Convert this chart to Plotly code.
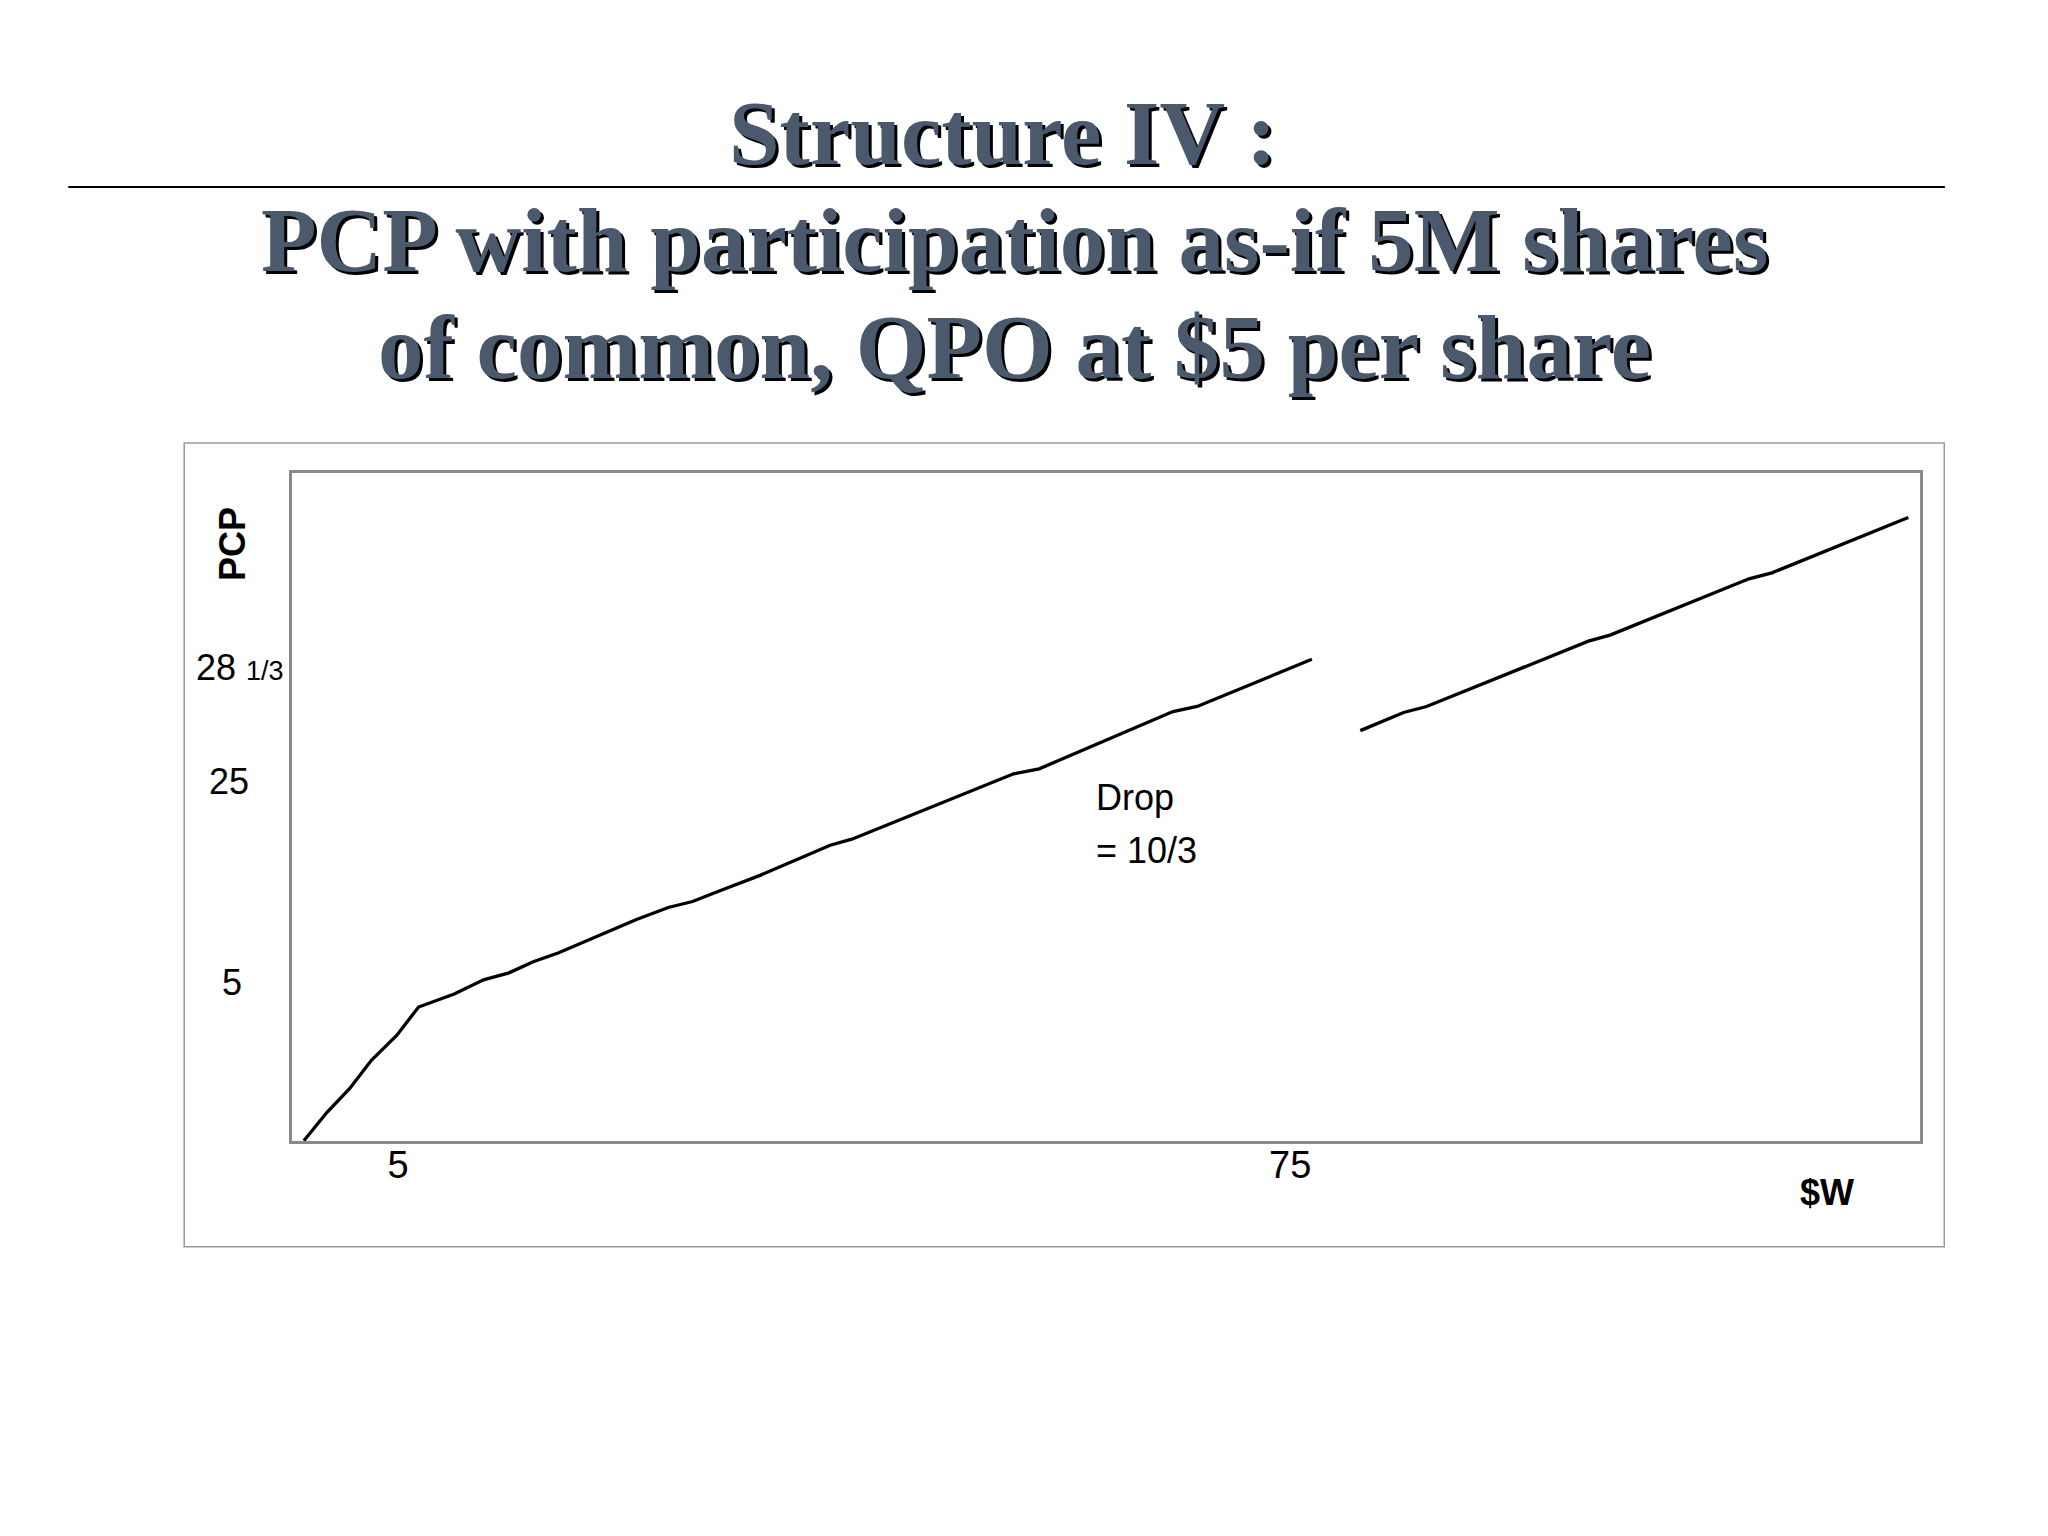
import plotly.graph_objects as go

# PCP payoff vs firm value $W (schematic)
w_before = [-2.4, -0.6, 1.2, 2.9, 4.9, 6.6, 9.4, 11.7, 13.7, 15.6, 17.6, 20.9,
            23.7, 26.2, 28.1, 30.5, 33.4, 38.9, 40.6, 53.3, 55.3, 65.8, 67.7, 76.7]
pcp_before = [-10.7, -7.9, -5.5, -2.7, -0.2, 2.6, 3.9, 5.3, 6.0, 7.1, 8.0, 9.8,
              11.3, 12.5, 13.1, 14.3, 15.7, 18.7, 19.3, 25.8, 26.3, 32.0, 32.5, 37.2]

w_after = [80.5, 83.9, 85.7, 93.1, 98.4, 100.1, 111.0, 112.8, 123.5]
pcp_after = [30.1, 31.9, 32.5, 36.3, 39.0, 39.6, 45.2, 45.8, 51.3]

x_ticks = [5, 75]
x_tick_text = ["5", "75"]

y_label_vals = [5, 25, 36.4]
y_label_text = ["5", "25", "28 <span style='font-size:27px'>1/3</span>"]

title_lines = ["Structure IV :",
               "PCP with participation as-if 5M shares",
               "of common, QPO at $5 per share"]

sans = "Liberation Sans, Arial, sans-serif"
serif = "Liberation Serif, Times New Roman, serif"

fig = go.Figure()

fig.add_trace(go.Scatter(x=w_before, y=pcp_before, mode="lines",
                         line=dict(color="black", width=3.3), showlegend=False))
fig.add_trace(go.Scatter(x=w_after, y=pcp_after, mode="lines",
                         line=dict(color="black", width=3.3), showlegend=False))

fig.update_xaxes(range=[-3.33, 124.42], tickvals=x_ticks, ticktext=x_tick_text,
                 tickfont=dict(family=sans, size=38, color="black"),
                 ticklabelstandoff=-12,
                 showgrid=False, zeroline=False, showline=True, mirror=True,
                 linecolor="#8a8a8a", linewidth=3, ticks="")
fig.update_yaxes(range=[-10.73, 55.73], showticklabels=False,
                 showgrid=False, zeroline=False, showline=True, mirror=True,
                 linecolor="#8a8a8a", linewidth=3, ticks="")

annotations = []

# y labels, placed by hand like on the slide
y_label_x = [-0.037, -0.039, -0.0604]
y_label_anchor = ["center", "center", "left"]
for v, t, px, anc in zip(y_label_vals, y_label_text, y_label_x, y_label_anchor):
    annotations.append(dict(x=px, y=v, xref="paper", yref="y", text=t,
                            showarrow=False, xanchor=anc, yanchor="middle",
                            font=dict(family=sans, size=36, color="black")))

annotations.append(dict(x=-0.0369, y=48.65, xref="paper", yref="y", text="<b>PCP</b>",
                        showarrow=False, textangle=-90, xanchor="center", yanchor="middle",
                        font=dict(family=sans, size=36, color="black")))
annotations.append(dict(x=0.943, y=-0.077, xref="paper", yref="paper", text="<b>$W</b>",
                        showarrow=False, xanchor="center", yanchor="middle",
                        font=dict(family=sans, size=36, color="black")))

# drop note
annotations.append(dict(x=59.6, y=23.4, xref="x", yref="y", text="Drop",
                        showarrow=False, xanchor="left", yanchor="middle",
                        font=dict(family=sans, size=36, color="black")))
annotations.append(dict(x=59.6, y=18.2, xref="x", yref="y", text="= 10/3",
                        showarrow=False, xanchor="left", yanchor="middle",
                        font=dict(family=sans, size=36, color="black")))

# slide title with drop shadow
title_x = [0.4365, 0.444, 0.444]
title_y = [1.5085, 1.348, 1.188]
for t, tx, ty in zip(title_lines, title_x, title_y):
    annotations.append(dict(x=tx, y=ty, xref="paper", yref="paper", text="<b>" + t + "</b>",
                            showarrow=False, xshift=3, yshift=-3,
                            xanchor="center", yanchor="middle",
                            font=dict(family=serif, size=91, color="black")))
    annotations.append(dict(x=tx, y=ty, xref="paper", yref="paper", text="<b>" + t + "</b>",
                            showarrow=False, xanchor="center", yanchor="middle",
                            font=dict(family=serif, size=91, color="#4b596d")))

fig.update_layout(
    width=2048, height=1536,
    margin=dict(l=284, r=136, t=465, b=403),
    paper_bgcolor="white", plot_bgcolor="white",
    annotations=annotations,
    shapes=[
        # outer frame around the chart
        dict(type="rect", xref="paper", yref="paper", x0=-0.0662, x1=1.0149,
             y0=-0.1584, y1=1.0449, line=dict(color="#9a9a9a", width=1.5)),
        # rule under the first title line
        dict(type="line", xref="paper", yref="paper", x0=-0.1374, x1=1.0153,
             y0=1.428, y1=1.428, line=dict(color="black", width=2)),
    ],
)

fig.write_html("out.html")
